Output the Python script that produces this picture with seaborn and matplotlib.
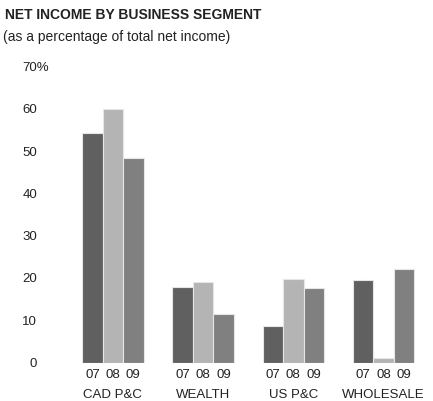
import matplotlib
matplotlib.use("Agg")
import matplotlib.pyplot as plt
import matplotlib.transforms as mtransforms
import pandas as pd
import seaborn as sns

segments = ["CAD P&C", "WEALTH", "US P&C", "WHOLESALE"]
years = ["07", "08", "09"]
values_07 = [54.3, 18.0, 8.7, 19.6]
values_08 = [60.0, 19.2, 19.9, 1.3]
values_09 = [48.5, 11.7, 17.7, 22.2]
y_ticks = [0, 10, 20, 30, 40, 50, 60, 70]
y_tick_labels = ["0", "10", "20", "30", "40", "50", "60", "70%"]

colors = ["#606060", "#b4b4b4", "#808080"]
text_color = "#222222"
fs = 9.5

rows = []
for year, vals in zip(years, [values_07, values_08, values_09]):
    for seg, v in zip(segments, vals):
        rows.append({"segment": seg, "year": year, "pct": v})
df = pd.DataFrame(rows)

sns.set_theme(style="white")
plt.rcParams["font.family"] = ["Liberation Sans", "DejaVu Sans"]

fig = plt.figure(figsize=(4.33, 4.02), dpi=100)
ax = fig.add_axes([0.1566, 0.0945, 0.8333, 0.7366])

sns.barplot(data=df, x="segment", y="pct", hue="year", order=segments,
            hue_order=years, palette=colors, saturation=1, width=0.68,
            edgecolor="#e6e6e6", linewidth=0.8, errorbar=None, legend=False,
            ax=ax)

ax.set_xlim(-0.5, 3.5)
ax.set_ylim(0, 70)
ax.set_xlabel("")
ax.set_ylabel("")
for s in ax.spines.values():
    s.set_visible(False)

# y tick labels: numbers right aligned, the top one carries the percent sign
ax.set_yticks(y_ticks)
ax.set_yticklabels([])
ax.tick_params(axis="both", length=0)
ytrans = mtransforms.blended_transform_factory(fig.transFigure, ax.transData)
for t, lab in zip(y_ticks, y_tick_labels):
    if lab.endswith("%"):
        ax.text(22 / 433, t, lab, transform=ytrans, ha="left", va="center",
                fontsize=fs, color=text_color)
    else:
        ax.text(37 / 433, t, lab, transform=ytrans, ha="right", va="center",
                fontsize=fs, color=text_color)

# year labels under each bar
xtrans = mtransforms.blended_transform_factory(ax.transData, ax.transAxes)
for container, year in zip(ax.containers, years):
    for bar in container:
        cx = bar.get_x() + bar.get_width() / 2
        ax.text(cx, -0.016, year, transform=xtrans, ha="center", va="top",
                fontsize=fs, color=text_color)

ax.set_xticks(range(len(segments)))
ax.set_xticklabels(segments, fontsize=fs, color=text_color)
ax.tick_params(axis="x", pad=18)

fig.text(5 / 433, 1 - 15 / 402, "NET INCOME BY BUSINESS SEGMENT",
         fontsize=10, fontweight="bold", ha="left", va="center",
         color=text_color)
fig.text(3 / 433, 1 - 37 / 402, "(as a percentage of total net income)",
         fontsize=10, ha="left", va="center", color=text_color)

fig.savefig("out.png", dpi=100, facecolor="white")
